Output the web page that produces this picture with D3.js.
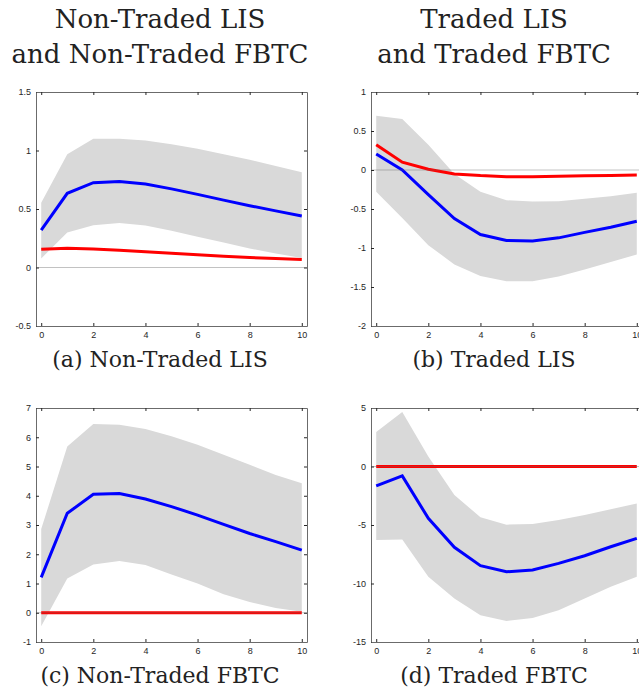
<!DOCTYPE html>
<html>
<head>
<meta charset="utf-8">
<script src="https://cdn.jsdelivr.net/npm/d3@7"></script>
<style>
  body { margin: 0; background: #fff; }
  svg { display: block; }
  .tick text { font-family: Arial, "Liberation Sans", sans-serif; font-size: 9px; fill: #262626; }
  .cap { font-family: "DejaVu Serif", serif; fill: #222; }
</style>
</head>
<body>
<div id="graph"></div>
<script>
// horizons (x categories)
var horizon = [0, 1, 2, 3, 4, 5, 6, 7, 8, 9, 10];

// (a) Non-Traded LIS
var aBlue  = [0.32, 0.634, 0.725, 0.734, 0.714, 0.672, 0.625, 0.576, 0.528, 0.484, 0.44];
var aRed   = [0.155, 0.165, 0.158, 0.147, 0.135, 0.122, 0.108, 0.096, 0.085, 0.076, 0.068];
var aUpper = [0.554, 0.968, 1.10, 1.10, 1.085, 1.054, 1.014, 0.968, 0.92, 0.868, 0.814];
var aLower = [0.077, 0.30, 0.362, 0.38, 0.36, 0.314, 0.262, 0.214, 0.163, 0.12, 0.082];

// (b) Traded LIS
var bBlue  = [0.206, 0.0, -0.315, -0.622, -0.827, -0.904, -0.91, -0.87, -0.80, -0.733, -0.657];
var bRed   = [0.325, 0.10, 0.01, -0.05, -0.072, -0.085, -0.085, -0.08, -0.075, -0.07, -0.063];
var bUpper = [0.697, 0.654, 0.325, -0.05, -0.28, -0.388, -0.405, -0.40, -0.37, -0.335, -0.293];
var bLower = [-0.28, -0.614, -0.964, -1.21, -1.36, -1.425, -1.425, -1.365, -1.275, -1.18, -1.083];

// (c) Non-Traded FBTC
var cBlue  = [1.21, 3.40, 4.05, 4.08, 3.89, 3.63, 3.34, 3.02, 2.71, 2.43, 2.14];
var cRed   = [0, 0, 0, 0, 0, 0, 0, 0, 0, 0, 0];
var cUpper = [2.86, 5.68, 6.45, 6.43, 6.28, 6.03, 5.74, 5.40, 5.06, 4.71, 4.43];
var cLower = [-0.46, 1.17, 1.65, 1.77, 1.63, 1.31, 1.0, 0.63, 0.37, 0.165, 0.03];

// (d) Traded FBTC
var dBlue  = [-1.65, -0.8, -4.43, -6.91, -8.48, -9.0, -8.85, -8.28, -7.63, -6.86, -6.14];
var dRed   = [0, 0, 0, 0, 0, 0, 0, 0, 0, 0, 0];
var dUpper = [2.95, 4.66, 0.86, -2.43, -4.34, -4.97, -4.91, -4.57, -4.14, -3.65, -3.17];
var dLower = [-6.28, -6.23, -9.43, -11.28, -12.71, -13.2, -12.94, -12.28, -11.28, -10.28, -9.43];

var xTicks = [0, 2, 4, 6, 8, 10];

var columnTitles = [
  ["Non-Traded LIS", "and Non-Traded FBTC"],
  ["Traded LIS", "and Traded FBTC"]
];

var panels = [
  {col: 0, row: 0, blue: aBlue, red: aRed, hi: aUpper, lo: aLower,
   yDomain: [-0.5, 1.5], yTicks: [-0.5, 0, 0.5, 1, 1.5], caption: "(a) Non-Traded LIS"},
  {col: 1, row: 0, blue: bBlue, red: bRed, hi: bUpper, lo: bLower,
   yDomain: [-2, 1], yTicks: [-2, -1.5, -1, -0.5, 0, 0.5, 1], caption: "(b) Traded LIS"},
  {col: 0, row: 1, blue: cBlue, red: cRed, hi: cUpper, lo: cLower,
   yDomain: [-1, 7], yTicks: [-1, 0, 1, 2, 3, 4, 5, 6, 7], caption: "(c) Non-Traded FBTC"},
  {col: 1, row: 1, blue: dBlue, red: dRed, hi: dUpper, lo: dLower,
   yDomain: [-15, 5], yTicks: [-15, -10, -5, 0, 5], caption: "(d) Traded FBTC"}
];

var width = 639, height = 693;
var colLeft = [36, 371], axW = 271;
var rowTop = [92, 408], axH = 234;
var captionX = [160, 494];

var svg = d3.select('#graph').append('svg')
  .attr('width', width)
  .attr('height', height);

// column titles
columnTitles.forEach(function(lines, i){
  lines.forEach(function(t, j){
    svg.append('text')
      .attr('class', 'cap')
      .attr('x', captionX[i])
      .attr('y', 28 + j * 35)
      .attr('text-anchor', 'middle')
      .style('font-size', '26px')
      .text(t);
  });
});

panels.forEach(function(p){
  var x0 = colLeft[p.col], y0 = rowTop[p.row];
  var g = svg.append('g').attr('transform', 'translate(' + x0 + ',' + y0 + ')');

  var x = d3.scaleLinear().domain([-0.2, 10.2]).range([0, axW]);
  var y = d3.scaleLinear().domain(p.yDomain).range([axH, 0]);

  var band = d3.area()
    .x(function(d, i){ return x(horizon[i]); })
    .y0(function(d, i){ return y(p.lo[i]); })
    .y1(function(d){ return y(d); });

  var line = d3.line()
    .x(function(d, i){ return x(horizon[i]); })
    .y(function(d){ return y(d); });

  g.append('path').datum(p.hi)
    .attr('d', band)
    .attr('fill', '#d9d9d9');

  g.append('path').datum(p.red)
    .attr('d', line)
    .attr('fill', 'none')
    .attr('stroke', '#ff0000')
    .attr('stroke-width', 3);

  g.append('path').datum(p.blue)
    .attr('d', line)
    .attr('fill', 'none')
    .attr('stroke', '#0000ff')
    .attr('stroke-width', 3);

  // zero line
  g.append('line')
    .attr('x1', 0).attr('x2', axW)
    .attr('y1', y(0)).attr('y2', y(0))
    .attr('stroke', '#666')
    .attr('stroke-width', 0.4);

  // axes box, ticks pointing inward
  var fmt = function(d){ return String(d); };
  var axes = [
    [d3.axisLeft(y).tickValues(p.yTicks).tickFormat(fmt).tickPadding(5), 0, 0],
    [d3.axisRight(y).tickValues(p.yTicks).tickFormat(''), axW, 0],
    [d3.axisBottom(x).tickValues(xTicks).tickFormat(fmt).tickPadding(6), 0, axH],
    [d3.axisTop(x).tickValues(xTicks).tickFormat(''), 0, 0]
  ];
  axes.forEach(function(a){
    var ag = g.append('g')
      .attr('transform', 'translate(' + a[1] + ',' + a[2] + ')')
      .call(a[0].tickSizeInner(-3).tickSizeOuter(0));
    ag.select('.domain').attr('stroke', '#6b6b6b');
    ag.selectAll('.tick line').attr('stroke', '#262626');
  });

  svg.append('text')
    .attr('class', 'cap')
    .attr('x', captionX[p.col])
    .attr('y', y0 + axH + 41)
    .attr('text-anchor', 'middle')
    .style('font-size', '22px')
    .text(p.caption);
});
</script>
</body>
</html>
